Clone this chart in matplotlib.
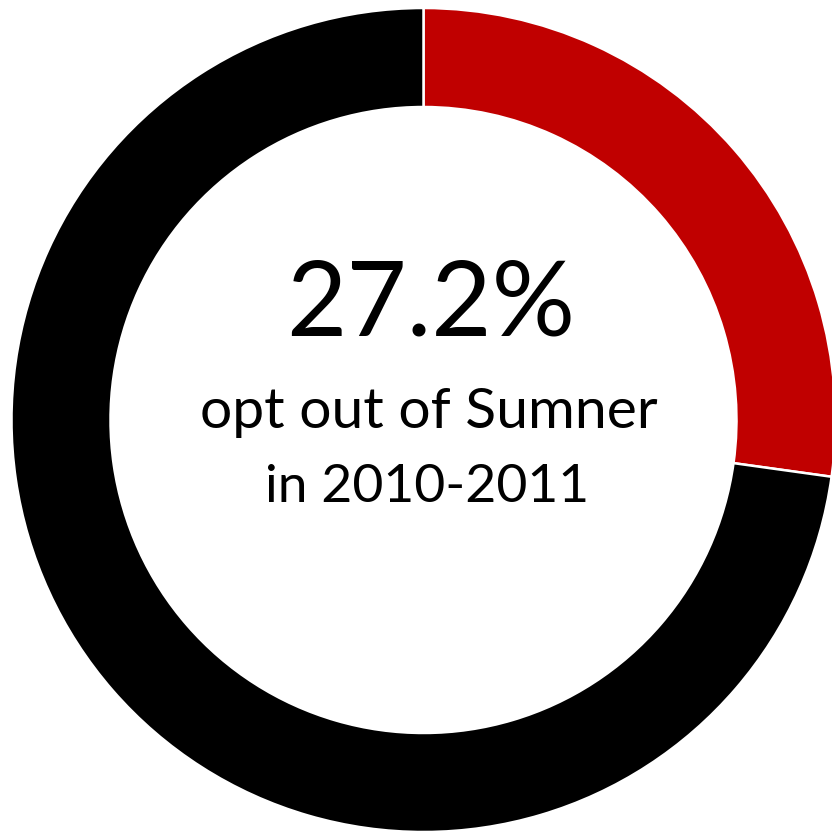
import matplotlib
matplotlib.use("Agg")
import matplotlib.pyplot as plt

# share of students opting out vs staying
labels = ["Opt out", "Stay"]
shares = [27.2, 72.8]
colors = ["#C00000", "#000000"]
headline = f"{shares[0]:.1f}%"
caption_1 = "opt out of Sumner"
caption_2 = "in 2010-2011"

W, H = 832, 831
fig = plt.figure(figsize=(W / 100, H / 100), dpi=100)
ax = fig.add_axes([0, 0, 1, 1])

cx, cy = 423.5, H - 420
r_out, ring = 412, 99
ax.pie(shares, colors=colors, startangle=90, counterclock=False,
       radius=r_out, center=(cx, cy), frame=True,
       wedgeprops=dict(width=ring, edgecolor="white", linewidth=1.8))
ax.set_xlim(0, W)
ax.set_ylim(0, H)
ax.set_aspect("equal")
ax.axis("off")

font = "Lato"
ax.text(431, H - 335, headline, ha="center", va="baseline",
        fontsize=75, family=font)
ax.text(429, H - 428, caption_1, ha="center", va="baseline",
        fontsize=41, family=font)
ax.text(427, H - 502, caption_2, ha="center", va="baseline",
        fontsize=38.5, family=font)

fig.savefig("out.png", dpi=100)
